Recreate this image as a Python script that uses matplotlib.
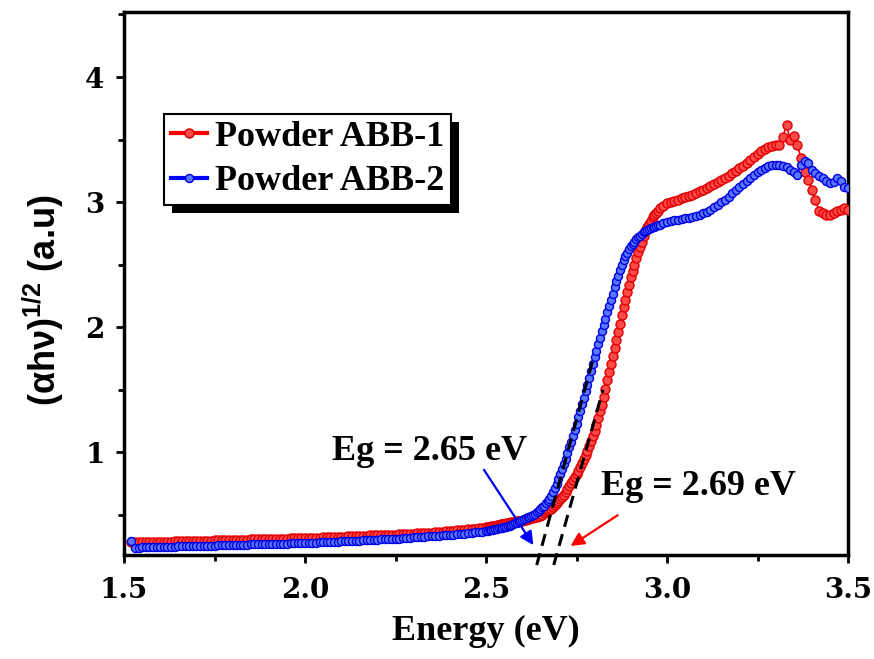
import numpy as np
import matplotlib
matplotlib.use('Agg')
import matplotlib.pyplot as plt
import matplotlib.patches as mpatches
from matplotlib.ticker import MultipleLocator

plt.rcParams['mathtext.fontset'] = 'custom'
plt.rcParams['mathtext.rm'] = 'Liberation Sans:bold'
plt.rcParams['mathtext.bf'] = 'Liberation Sans:bold'

# energy grid (eV): flat part, absorption edge (fine), top part
energy = np.concatenate([np.arange(152, 250) / 100,
                         np.arange(2500, 2981, 5) / 1000,
                         np.arange(299, 351) / 100])

# Powder ABB-1 (red)
abb1 = [0.280, 0.280, 0.281, 0.281, 0.282, 0.283, 0.283, 0.284, 0.285, 0.286,
        0.286, 0.287, 0.288, 0.289, 0.289, 0.290, 0.291, 0.292, 0.292, 0.293,
        0.294, 0.295, 0.295, 0.296, 0.297, 0.298, 0.298, 0.299, 0.300, 0.301,
        0.301, 0.302, 0.303, 0.304, 0.304, 0.305, 0.306, 0.307, 0.307, 0.308,
        0.309, 0.310, 0.310, 0.311, 0.312, 0.313, 0.313, 0.314, 0.315, 0.316,
        0.317, 0.318, 0.319, 0.320, 0.321, 0.323, 0.324, 0.325, 0.326, 0.327,
        0.328, 0.330, 0.331, 0.332, 0.333, 0.335, 0.336, 0.337, 0.338, 0.339,
        0.340, 0.341, 0.342, 0.343, 0.344, 0.346, 0.347, 0.349, 0.350, 0.352,
        0.353, 0.355, 0.357, 0.358, 0.360, 0.363, 0.365, 0.368, 0.370, 0.373,
        0.376, 0.379, 0.382, 0.385, 0.388, 0.391, 0.395, 0.398,
        # edge
        0.400, 0.403, 0.406, 0.409, 0.412, 0.415, 0.419, 0.422, 0.425, 0.428,
        0.430, 0.433, 0.435, 0.438, 0.440, 0.443, 0.445, 0.448, 0.450, 0.453,
        0.455, 0.458, 0.462, 0.465, 0.468, 0.472, 0.475, 0.480, 0.485, 0.490,
        0.495, 0.503, 0.512, 0.522, 0.532, 0.541, 0.550, 0.565, 0.580, 0.595,
        0.610, 0.627, 0.645, 0.662, 0.680, 0.705, 0.730, 0.755, 0.780, 0.805,
        0.830, 0.855, 0.880, 0.912, 0.945, 0.978, 1.010, 1.050, 1.090, 1.130,
        1.170, 1.222, 1.275, 1.328, 1.380, 1.445, 1.510, 1.575, 1.640, 1.705,
        1.770, 1.835, 1.900, 1.965, 2.030, 2.095, 2.160, 2.220, 2.280, 2.340,
        2.400, 2.450, 2.500, 2.550, 2.600, 2.643, 2.685, 2.728, 2.770, 2.798,
        2.825, 2.853, 2.880, 2.898, 2.915, 2.933, 2.950,
        # top
        2.970, 2.990, 3.000, 3.010, 3.020, 3.030, 3.040, 3.050, 3.060, 3.075,
        3.090, 3.100, 3.115, 3.130, 3.145, 3.160, 3.180, 3.195, 3.210, 3.230,
        3.250, 3.270, 3.290, 3.310, 3.335, 3.360, 3.385, 3.410, 3.425, 3.440,
        3.450, 3.460, 3.460, 3.520, 3.620, 3.500, 3.530, 3.460, 3.350, 3.240,
        3.180, 3.100, 3.020, 2.930, 2.910, 2.900, 2.900, 2.910, 2.930, 2.940,
        2.950, 2.940]

# Powder ABB-2 (blue)
abb2 = [0.290, 0.240, 0.240, 0.241, 0.242, 0.243, 0.244, 0.244, 0.245, 0.246,
        0.247, 0.247, 0.248, 0.249, 0.250, 0.250, 0.251, 0.252, 0.253, 0.253,
        0.254, 0.255, 0.256, 0.256, 0.257, 0.258, 0.259, 0.259, 0.260, 0.261,
        0.262, 0.262, 0.263, 0.264, 0.265, 0.265, 0.266, 0.267, 0.268, 0.268,
        0.269, 0.270, 0.271, 0.271, 0.272, 0.273, 0.274, 0.274, 0.275, 0.277,
        0.278, 0.279, 0.280, 0.282, 0.283, 0.284, 0.285, 0.287, 0.288, 0.289,
        0.290, 0.292, 0.293, 0.295, 0.296, 0.298, 0.299, 0.301, 0.302, 0.304,
        0.305, 0.307, 0.308, 0.310, 0.311, 0.313, 0.315, 0.318, 0.320, 0.322,
        0.324, 0.326, 0.328, 0.330, 0.332, 0.334, 0.336, 0.338, 0.340, 0.342,
        0.345, 0.347, 0.350, 0.353, 0.357, 0.360, 0.364, 0.367,
        # edge
        0.370, 0.373, 0.376, 0.379, 0.382, 0.385, 0.388, 0.392, 0.395, 0.399,
        0.403, 0.407, 0.411, 0.415, 0.420, 0.426, 0.432, 0.439, 0.446, 0.453,
        0.460, 0.467, 0.473, 0.480, 0.487, 0.493, 0.500, 0.510, 0.520, 0.532,
        0.545, 0.560, 0.575, 0.592, 0.610, 0.630, 0.650, 0.680, 0.715, 0.750,
        0.785, 0.828, 0.870, 0.910, 0.950, 0.995, 1.040, 1.085, 1.130, 1.180,
        1.230, 1.280, 1.330, 1.383, 1.435, 1.488, 1.540, 1.595, 1.650, 1.705,
        1.760, 1.813, 1.865, 1.918, 1.970, 2.020, 2.070, 2.120, 2.170, 2.220,
        2.270, 2.320, 2.370, 2.413, 2.455, 2.498, 2.540, 2.568, 2.595, 2.623,
        2.650, 2.668, 2.685, 2.703, 2.720, 2.733, 2.745, 2.758, 2.770, 2.778,
        2.785, 2.793, 2.800, 2.805, 2.810, 2.815, 2.820,
        # top
        2.830, 2.840, 2.850, 2.855, 2.860, 2.865, 2.870, 2.875, 2.880, 2.890,
        2.900, 2.910, 2.925, 2.940, 2.960, 2.980, 3.000, 3.020, 3.045, 3.070,
        3.095, 3.120, 3.145, 3.170, 3.190, 3.215, 3.240, 3.260, 3.275, 3.290,
        3.295, 3.300, 3.295, 3.290, 3.280, 3.260, 3.240, 3.220, 3.300, 3.330,
        3.310, 3.260, 3.230, 3.210, 3.190, 3.170, 3.150, 3.160, 3.190, 3.170,
        3.120, 3.110]

labels = ['Powder ABB-1', 'Powder ABB-2']

# band gap values and the tangent (Tauc) lines, as (E, y) end points
eg_text = ['Eg = 2.69 eV', 'Eg = 2.65 eV']
tangent_abb1 = [(2.687, 0.10), (2.823, 1.50)]
tangent_abb2 = [(2.640, 0.10), (2.797, 1.76)]

fig = plt.figure(figsize=(8.74, 6.59), dpi=100)
ax = fig.add_axes([0.1419, 0.1578, 0.8284, 0.824])

ax.plot(energy, abb1, '-o', color='red', lw=1.2, ms=6.5,
        mfc='#ff4a4a', mec='#e00000', mew=1.0, label=labels[0], zorder=3)
ax.plot(energy, abb2, '-o', color='blue', lw=1.2, ms=5.8,
        mfc='#5a78ff', mec='#0000e0', mew=1.0, label=labels[1], zorder=4)

for t in (tangent_abb1, tangent_abb2):
    ax.plot([t[0][0], t[1][0]], [t[0][1], t[1][1]], color='black', lw=2.2,
            dashes=(4, 2.5), zorder=6, clip_on=False)

# arrows + text
ax.annotate('', xy=(2.635, 0.24), xytext=(2.49, 0.88),
            arrowprops=dict(arrowstyle='-|>', color='blue', lw=1.6, mutation_scale=20))
ax.annotate('', xy=(2.727, 0.24), xytext=(2.87, 0.51),
            arrowprops=dict(arrowstyle='-|>', color='red', lw=1.6, mutation_scale=20))
ax.text(2.343, 0.94, eg_text[1], ha='center', va='baseline', fontsize=26,
        fontweight='bold', family='Liberation Serif')
ax.text(3.087, 0.656, eg_text[0], ha='center', va='baseline', fontsize=26,
        fontweight='bold', family='Liberation Serif')

ax.set_xlim(1.5, 3.5)
ax.set_ylim(0.18, 4.52)
ax.xaxis.set_major_locator(MultipleLocator(0.5))
ax.xaxis.set_minor_locator(MultipleLocator(0.25))
ax.yaxis.set_major_locator(MultipleLocator(1))
ax.yaxis.set_minor_locator(MultipleLocator(0.5))
ax.set_xticks([1.5, 2.0, 2.5, 3.0, 3.5])
ax.set_xticklabels(['1.5', '2.0', '2.5', '3.0', '3.5'])
ax.tick_params(which='both', direction='out', width=2, top=False, right=False)
ax.tick_params(which='major', length=6)
ax.tick_params(axis='x', which='major', pad=10)
ax.tick_params(axis='y', which='major', pad=8)
ax.tick_params(which='minor', length=4.5)
for lab in ax.get_xticklabels() + ax.get_yticklabels():
    lab.set_fontfamily('DejaVu Serif')
    lab.set_fontweight('bold')
    lab.set_fontsize(20)
for s in ax.spines.values():
    s.set_linewidth(2.5)

ax.set_xlabel('Energy (eV)', fontsize=26, fontweight='bold',
              family='Liberation Serif', labelpad=8)
ax.set_ylabel('(αhν)$^{1/2}$ (a.u)', fontsize=26, fontweight='bold',
              family='Liberation Sans')
ax.yaxis.set_label_coords(-0.08, 0.47)

leg = ax.legend(loc='upper left', bbox_to_anchor=(0.0552, 0.813),
                prop={'family': 'Liberation Serif', 'weight': 'bold', 'size': 26},
                frameon=True, fancybox=False, edgecolor='black', framealpha=1,
                borderaxespad=0, borderpad=0.2, labelspacing=0.3,
                handlelength=1.0, handletextpad=0.2, numpoints=1)
leg.get_frame().set_linewidth(1.5)
leg.set_zorder(8)
for ln in leg.get_lines():
    ln.set_linewidth(3)

# black drop shadow behind the legend
fig.canvas.draw()
bb = leg.get_window_extent().transformed(fig.transFigure.inverted())
dx, dy = 8 / 874, 8 / 659
shadow = mpatches.Rectangle((bb.x0 + dx, bb.y0 - dy), bb.width, bb.height,
                            transform=fig.transFigure, facecolor='black',
                            edgecolor='none', zorder=7.9, clip_on=False)
ax.add_patch(shadow)

fig.savefig('out.png', dpi=100)
